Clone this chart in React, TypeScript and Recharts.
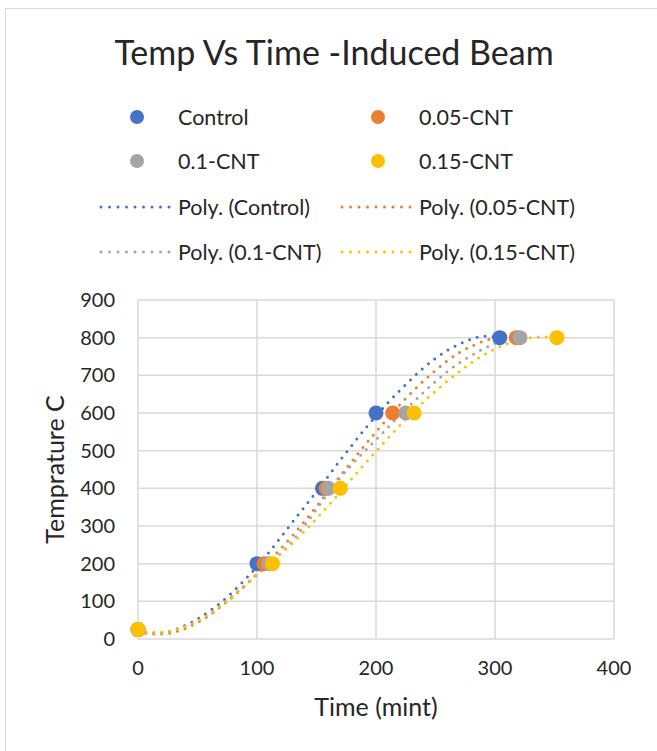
import React from "react";
import {
  ComposedChart,
  Scatter,
  Line,
  XAxis,
  YAxis,
  CartesianGrid,
  Label,
} from "recharts";

// measured points (time in minutes, temperature in C)
const tempLevels = [25, 200, 400, 600, 800];
const timeControl = [0, 100, 155, 200, 304];
const time005 = [0, 106, 158, 214, 318];
const time01 = [0, 110, 160, 225, 321];
const time015 = [0, 113, 170, 232, 352];

// polynomial trendlines
const polyControlX = [0, 10, 20, 30, 40, 50, 60, 70, 80, 90, 100, 110, 120, 130, 140, 150, 160, 170, 180, 190, 200, 210, 220, 230, 240, 250, 260, 270, 280, 290, 304];
const polyControlY = [22, 16, 17, 24, 36, 53, 74, 98, 126, 158, 192, 230, 270, 311, 351, 391, 433, 475, 515, 555, 592, 627, 660, 691, 720, 745, 766, 783, 796, 804, 800];

const poly005X = [0, 10, 20, 30, 40, 50, 60, 70, 80, 90, 100, 110, 120, 130, 140, 150, 160, 170, 180, 190, 200, 210, 220, 230, 240, 250, 260, 270, 280, 290, 300, 310, 318];
const poly005Y = [20, 14, 13, 18, 28, 44, 63, 87, 113, 142, 173, 206, 240, 275, 312, 352, 393, 433, 473, 512, 550, 586, 622, 655, 685, 713, 739, 760, 777, 790, 799, 803, 800];

const poly01X = [0, 10, 20, 30, 40, 50, 60, 70, 80, 90, 100, 110, 120, 130, 140, 150, 160, 170, 180, 190, 200, 210, 220, 230, 240, 250, 260, 270, 280, 290, 300, 310, 321];
const poly01Y = [22, 16, 16, 22, 33, 48, 67, 90, 116, 143, 170, 199, 228, 262, 301, 344, 388, 428, 464, 497, 529, 562, 595, 625, 655, 684, 710, 733, 752, 770, 785, 795, 800];

const poly015X = [0, 10, 20, 30, 40, 50, 60, 70, 80, 90, 100, 110, 120, 130, 140, 150, 160, 170, 180, 190, 200, 210, 220, 230, 240, 250, 260, 270, 280, 290, 300, 310, 320, 330, 340, 352];
const poly015Y = [22, 17, 18, 23, 33, 47, 65, 88, 114, 142, 172, 200, 226, 255, 286, 320, 354, 390, 427, 463, 498, 533, 567, 600, 630, 658, 685, 710, 733, 753, 770, 784, 794, 800, 802, 800];

const xTicks = [0, 100, 200, 300, 400];
const yTicks = [0, 100, 200, 300, 400, 500, 600, 700, 800, 900];

const zip = (xs: number[], ys: number[]) => xs.map((x, i) => ({ x, y: ys[i] }));

const series = [
  { name: "Control", color: "#4472C4", pts: zip(timeControl, tempLevels), poly: zip(polyControlX, polyControlY) },
  { name: "0.05-CNT", color: "#ED7D31", pts: zip(time005, tempLevels), poly: zip(poly005X, poly005Y) },
  { name: "0.1-CNT", color: "#A5A5A5", pts: zip(time01, tempLevels), poly: zip(poly01X, poly01Y) },
  { name: "0.15-CNT", color: "#FFC000", pts: zip(time015, tempLevels), poly: zip(poly015X, poly015Y) },
];

const FONT = "Lato, 'Open Sans', sans-serif";
const TEXT = "#262626";

const dot = (color: string) => (props: any) => (
  <circle cx={props.cx} cy={props.cy} r={7.5} fill={color} />
);

function LegendRow({ top, items, line }: { top: number; items: typeof series; line: boolean }) {
  const cols = [
    { sym: 137, lineX: 101, text: 178 },
    { sym: 378, lineX: 342, text: 419 },
  ];
  return (
    <>
      {items.map((s, i) => (
        <React.Fragment key={s.name + line}>
          <svg
            style={{ position: "absolute", left: 0, top: top - 10 }}
            width={657}
            height={20}
          >
            {line ? (
              <line
                x1={cols[i].lineX}
                x2={cols[i].lineX + 70}
                y1={10}
                y2={10}
                stroke={s.color}
                strokeWidth={3}
                strokeDasharray="0 8.5"
                strokeLinecap="round"
              />
            ) : (
              <circle cx={cols[i].sym} cy={10} r={7} fill={s.color} />
            )}
          </svg>
          <div
            style={{
              position: "absolute",
              left: cols[i].text,
              top: top - 15,
              height: 30,
              lineHeight: "30px",
              fontSize: 21.5,
              color: TEXT,
              whiteSpace: "nowrap",
            }}
          >
            {line ? `Poly. (${s.name})` : s.name}
          </div>
        </React.Fragment>
      ))}
    </>
  );
}

export default function App() {
  return (
    <div
      style={{
        position: "absolute",
        left: 0,
        top: 0,
        width: 657,
        height: 751,
        background: "#fff",
        fontFamily: FONT,
        overflow: "hidden",
      }}
    >
      <div
        style={{
          position: "absolute",
          left: 5,
          top: 8,
          width: 700,
          height: 800,
          border: "1.5px solid #d9d9d9",
        }}
      />
      <div
        style={{
          position: "absolute",
          left: 0,
          width: 668,
          top: 30,
          textAlign: "center",
          fontSize: 34,
          color: TEXT,
          lineHeight: "44px",
        }}
      >
        Temp Vs Time -Induced Beam
      </div>
      <LegendRow top={117} items={[series[0], series[1]]} line={false} />
      <LegendRow top={161} items={[series[2], series[3]]} line={false} />
      <LegendRow top={207} items={[series[0], series[1]]} line={true} />
      <LegendRow top={252} items={[series[2], series[3]]} line={true} />

      <div style={{ position: "absolute", left: 0, top: 0 }}>
        <ComposedChart
          width={657}
          height={751}
          margin={{ top: 300, right: 43, bottom: 32, left: 38 }}
        >
          <CartesianGrid stroke="#d9d9d9" strokeWidth={1.5} />
          <XAxis
            type="number"
            dataKey="x"
            domain={[0, 400]}
            ticks={xTicks}
            axisLine={false}
            tickLine={false}
            tickSize={0}
            tickMargin={22}
            height={80}
            tick={{ fontSize: 20, fill: TEXT, fontFamily: FONT }}
          >
            <Label
              value="Time (mint)"
              position="insideBottom"
              offset={3}
              style={{ fontSize: 25, fill: TEXT, fontFamily: FONT }}
            />
          </XAxis>
          <YAxis
            type="number"
            dataKey="y"
            domain={[0, 900]}
            ticks={yTicks}
            axisLine={false}
            tickLine={false}
            tickSize={0}
            tickMargin={23}
            width={100}
            tick={{ fontSize: 20, fill: TEXT, fontFamily: FONT }}
          >
            <Label
              value="Temprature C"
              angle={-90}
              position="insideLeft"
              offset={17}
              style={{ fontSize: 25, fill: TEXT, fontFamily: FONT, textAnchor: "middle" }}
            />
          </YAxis>
          {series.map((s) => (
            <Scatter
              key={s.name}
              name={s.name}
              data={s.pts}
              fill={s.color}
              shape={dot(s.color)}
              isAnimationActive={false}
            />
          ))}
          {series.map((s) => (
            <Line
              key={"poly-" + s.name}
              name={`Poly. (${s.name})`}
              data={s.poly}
              dataKey="y"
              type="monotone"
              stroke={s.color}
              strokeWidth={3}
              strokeDasharray="0 8"
              strokeLinecap="round"
              dot={false}
              activeDot={false}
              isAnimationActive={false}
            />
          ))}
        </ComposedChart>
      </div>
    </div>
  );
}
